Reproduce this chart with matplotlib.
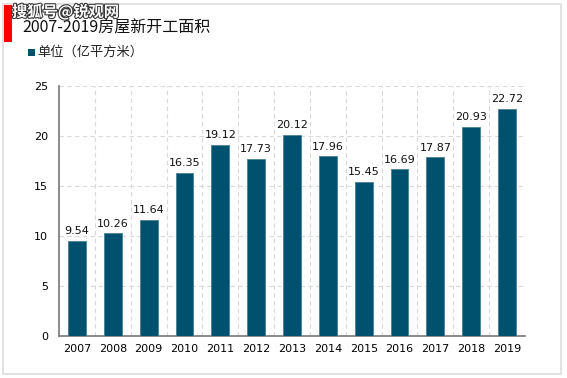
import matplotlib
matplotlib.use("Agg")
import matplotlib.pyplot as plt
import matplotlib.patheffects as pe
from matplotlib.patches import Rectangle

plt.rcParams['font.family'] = ['Noto Sans CJK SC', 'DejaVu Sans']

years = ['2007', '2008', '2009', '2010', '2011', '2012', '2013',
         '2014', '2015', '2016', '2017', '2018', '2019']
values = [9.54, 10.26, 11.64, 16.35, 19.12, 17.73, 20.12,
          17.96, 15.45, 16.69, 17.87, 20.93, 22.72]
yticks = [0, 5, 10, 15, 20, 25]
title = '2007-2019房屋新开工面积'
legend_label = '单位（亿平方米）'
watermark = '搜狐号@锐观网'

bar_color = '#00516E'
W, H = 567, 378
fig = plt.figure(figsize=(W / 100, H / 100), dpi=100)

# outer frame
fig.patches.append(Rectangle((3 / W, 1 - 374 / H), 558 / W, 370 / H,
                             transform=fig.transFigure, fill=False,
                             edgecolor='#DDDDDD', linewidth=1.2))
# red marker
fig.patches.append(Rectangle((4 / W, 1 - 42 / H), 8 / W, 37 / H,
                             transform=fig.transFigure, facecolor='#FF0000',
                             edgecolor='none'))

ax = fig.add_axes([59 / W, 1 - 336 / H, 466 / W, 250 / H])
x = list(range(len(years)))
ax.bar(x, values, width=0.5, color=bar_color, edgecolor='#4A7F95',
       linewidth=0.6, zorder=3)
for xi, v in zip(x, values):
    ax.text(xi, v + 0.45, f'{v:.2f}', ha='center', va='bottom',
            fontsize=8, family='DejaVu Sans', color='#111111')

ax.set_xlim(-0.5, len(years) - 0.5)
ax.set_ylim(0, 25)
ax.set_yticks(yticks)
ax.set_yticklabels([str(t) for t in yticks], family='DejaVu Sans', fontsize=8)
ax.set_xticks(x)
ax.set_xticklabels(years, family='DejaVu Sans', fontsize=8)
ax.tick_params(axis='both', length=0, pad=8)
ax.tick_params(axis='x', pad=6)

# grid
for yy in yticks[1:]:
    ax.axhline(yy, color='#D9D9D9', linestyle=(0, (4, 3)), linewidth=0.8, zorder=1)
for b in [i + 0.5 for i in range(len(years))]:
    ax.axvline(b, color='#D9D9D9', linestyle=(0, (4, 3)), linewidth=0.8, zorder=1)

for s in ['top', 'right']:
    ax.spines[s].set_visible(False)
ax.spines['left'].set_color('#777777')
ax.spines['bottom'].set_color('#777777')
ax.spines['left'].set_linewidth(1.2)
ax.spines['bottom'].set_linewidth(1.2)

# title and watermark
fig.text(22 / W, 1 - 28 / H, title, fontsize=11.5, va='center', ha='left',
         color='#111111')
fig.text(12 / W, 1 - 12 / H, watermark, fontsize=11, va='center', ha='left',
         color='white', fontweight='bold',
         path_effects=[pe.withStroke(linewidth=1.5, foreground='#333333')])

# legend
fig.patches.append(Rectangle((28 / W, 1 - 56 / H), 7 / W, 7 / H,
                             transform=fig.transFigure, facecolor=bar_color,
                             edgecolor='none'))
fig.text(37 / W, 1 - 52.5 / H, legend_label, fontsize=9.5, va='center',
         ha='left', color='#222222')

fig.savefig('out.png', dpi=100)
